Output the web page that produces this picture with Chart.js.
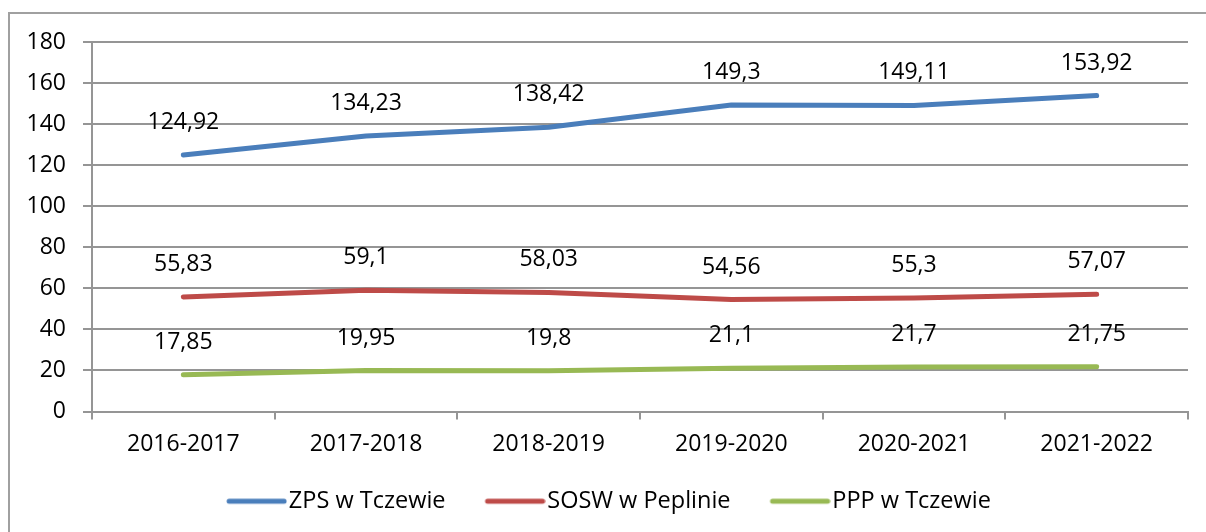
<!DOCTYPE html>
<html>
<head>
<meta charset="utf-8">
<script src="https://cdn.jsdelivr.net/npm/chart.js@4.4.0/dist/chart.umd.min.js"></script>
<style>
  html, body { margin: 0; padding: 0; background: #fff; }
  #wrap { position: relative; width: 1206px; height: 532px; overflow: hidden; }
  #frame { position: absolute; left: 8px; top: 12px; width: 1300px; height: 600px; border: 2px solid #a0a0a0; box-sizing: border-box; }
  #c { position: absolute; left: 0; top: 0; }
</style>
</head>
<body>
<div id="wrap">
  <div id="frame"></div>
  <canvas id="c" width="1206" height="532"></canvas>
</div>
<script>
const categories = ['2016-2017', '2017-2018', '2018-2019', '2019-2020', '2020-2021', '2021-2022'];
const seriesNames = ['ZPS w Tczewie', 'SOSW w Peplinie', 'PPP w Tczewie'];
const zpsValues = [124.92, 134.23, 138.42, 149.3, 149.11, 153.92];
const soswValues = [55.83, 59.1, 58.03, 54.56, 55.3, 57.07];
const pppValues = [17.85, 19.95, 19.8, 21.1, 21.7, 21.75];
const yTicks = [0, 20, 40, 60, 80, 100, 120, 140, 160, 180];
const colors = ['#4A7EBB', '#BE4B48', '#98B954'];

const FONT = '"Open Sans", "Noto Sans", sans-serif';

// legend swatch: 80px wide image, line drawn towards its right end
function legendLine(color) {
  const cv = document.createElement('canvas');
  cv.width = 80; cv.height = 8;
  const g = cv.getContext('2d');
  g.strokeStyle = color; g.lineWidth = 5; g.lineCap = 'round';
  g.beginPath(); g.moveTo(22, 4); g.lineTo(77, 4); g.stroke();
  return cv;
}
const legendImgs = colors.map(legendLine);

const dataLabels = {
  id: 'dataLabels',
  afterDatasetsDraw(chart) {
    const ctx = chart.ctx;
    ctx.save();
    ctx.font = '23px ' + FONT;
    ctx.fillStyle = '#000';
    ctx.textAlign = 'center';
    ctx.textBaseline = 'alphabetic';
    chart.data.datasets.forEach((ds, i) => {
      const meta = chart.getDatasetMeta(i);
      meta.data.forEach((pt, j) => {
        const txt = String(ds.data[j]).replace('.', ',');
        ctx.fillText(txt, pt.x, pt.y - 26);
      });
    });
    ctx.restore();
  }
};

const mk = (label, data, color) => ({
  label, data,
  borderColor: color, backgroundColor: color,
  borderWidth: 5, borderCapStyle: 'round', borderJoinStyle: 'round',
  pointRadius: 0, pointHoverRadius: 0, tension: 0
});

new Chart(document.getElementById('c'), {
  type: 'line',
  data: {
    labels: categories,
    datasets: [
      mk(seriesNames[0], zpsValues, colors[0]),
      mk(seriesNames[1], soswValues, colors[1]),
      mk(seriesNames[2], pppValues, colors[2])
    ]
  },
  options: {
    responsive: false,
    animation: false,
    events: [],
    layout: { padding: { left: 20, right: 18, top: 42, bottom: 9 } },
    plugins: {
      tooltip: { enabled: false },
      legend: {
        position: 'bottom',
        labels: {
          font: { family: FONT, size: 23.5 },
          color: '#000',
          usePointStyle: true,
          pointStyleWidth: 60,
          boxHeight: 8,
          padding: 30,
          generateLabels(chart) {
            const items = Chart.defaults.plugins.legend.labels.generateLabels(chart);
            items.forEach((it, i) => { it.pointStyle = legendImgs[i]; });
            return items;
          }
        }
      }
    },
    scales: {
      x: {
        offset: true,
        afterFit(scale) { scale.height = 48; },
        grid: { offset: true, drawOnChartArea: false, drawTicks: true, tickLength: 8, color: '#959595', lineWidth: 2 },
        border: { display: true, color: '#959595', width: 2 },
        ticks: { font: { family: FONT, size: 23 }, color: '#000', padding: 11, maxRotation: 0 }
      },
      y: {
        min: 0, max: 180,
        afterFit(scale) { scale.width = 72; },
        afterBuildTicks(scale) { scale.ticks = yTicks.map(v => ({ value: v })); },
        grid: { color: '#959595', lineWidth: 2, tickLength: 9 },
        border: { display: true, color: '#959595', width: 2 },
        ticks: { font: { family: FONT, size: 23 }, color: '#000', padding: 17 }
      }
    }
  },
  plugins: [dataLabels]
});
</script>
</body>
</html>
